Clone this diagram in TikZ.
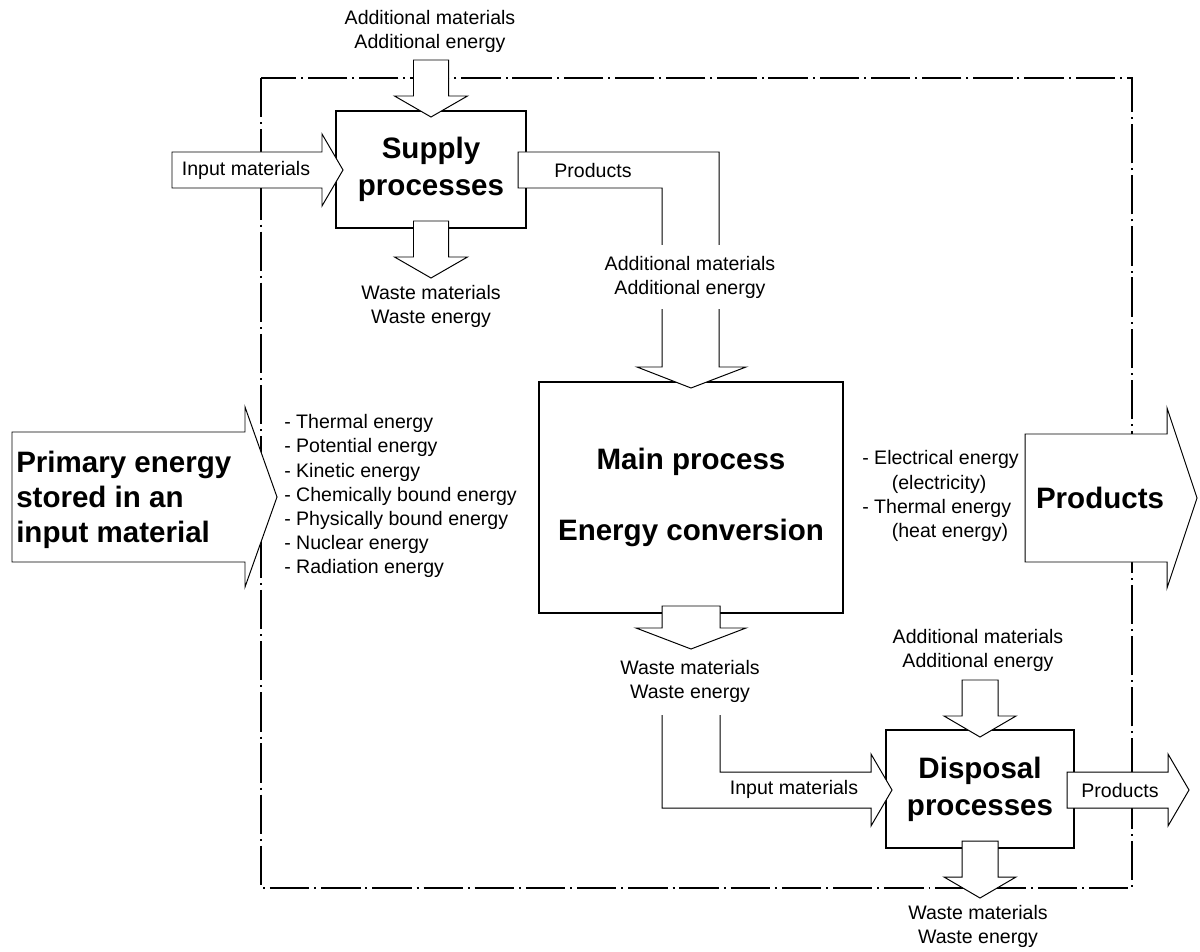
\documentclass[tikz,border=0pt]{standalone}
\usepackage{fontspec}
\setmainfont{Liberation Sans}
\usetikzlibrary{calc}

\begin{document}
\begin{tikzpicture}[
    x=0.025cm, y=-0.025cm,
    process/.style={rectangle, draw, line width=2pt, fill=white, inner sep=2pt, align=center, font=\bfseries\fontsize{21}{26.5}\selectfont},
    txt/.style={align=center, inner sep=0pt, font=\fontsize{13.9}{17.1}\selectfont},
    bigtxt/.style={align=left, inner sep=0pt, font=\bfseries\fontsize{21}{25}\selectfont},
    flow/.style={draw, fill=white, line width=0.7pt},
    frame/.style={line width=0.9pt, dash pattern=on 28pt off 3.5pt on 1.4pt off 3.5pt},
    arrowdown/.style n args={3}{flow, to path={($(\tikztostart)+(-#1,0)$) -- ($(\tikztotarget)+(-#1,-#3)$) -- ($(\tikztotarget)+(-#2,-#3)$) -- (\tikztotarget) -- ($(\tikztotarget)+(#2,-#3)$) -- ($(\tikztotarget)+(#1,-#3)$) -- ($(\tikztostart)+(#1,0)$) -- cycle}},
    arrowright/.style n args={3}{flow, to path={($(\tikztostart)+(0,-#1)$) -- ($(\tikztotarget)+(-#3,-#1)$) -- ($(\tikztotarget)+(-#3,-#2)$) -- (\tikztotarget) -- ($(\tikztotarget)+(-#3,#2)$) -- ($(\tikztotarget)+(-#3,#1)$) -- ($(\tikztostart)+(0,#1)$) -- cycle}}
]
\useasboundingbox (0,0) rectangle (1200,951);

% System boundary
\draw[frame] (261,78) rectangle (1132,888);

% Processes
\node[process, minimum width=4.75cm, minimum height=2.925cm] (supply) at (431,169.5) {Supply\\processes};
\node[process, minimum width=7.6cm, minimum height=5.775cm] (mainproc) at (691,497.5) {Main process\\[24pt]Energy conversion};
\node[process, minimum width=4.7cm, minimum height=2.95cm] (disposal) at (980,789) {Disposal\\processes};

% Arrow ends
\coordinate (st1) at (431,60);   \coordinate (st2) at (431,117);
\coordinate (sw1) at (431,221);  \coordinate (sw2) at (431,278);
\coordinate (si1) at (172,170);  \coordinate (si2) at (343,170);
\coordinate (sp1) at (518,170);  \coordinate (sp2) at (691,388);
\coordinate (pe1) at (12,497);   \coordinate (pe2) at (277,497);
\coordinate (po1) at (1025,498); \coordinate (po2) at (1197,498);
\coordinate (mw1) at (691,606);  \coordinate (mw2) at (691,649);
\coordinate (di1) at (691,715);  \coordinate (di2) at (892,790);
\coordinate (dt1) at (980,680);  \coordinate (dt2) at (980,737);
\coordinate (dw1) at (980,841);  \coordinate (dw2) at (980,898);
\coordinate (dp1) at (1067,790); \coordinate (dp2) at (1189,790);

% Supply arrows
\draw[arrowdown={17.5}{36.5}{21}] (st1) to (st2);
\draw[arrowdown={17.5}{36.5}{21}] (sw1) to (sw2);
\draw[arrowright={18}{36}{21}] (si1) to (si2);
\draw[flow] ($(sp1)+(0,-18)$) -| ($(sp2)+(28,-21)$) -- ($(sp2)+(55,-21)$) -- (sp2)
    -- ($(sp2)+(-54,-21)$) -- ($(sp2)+(-29,-21)$) |- ($(sp1)+(0,18)$) -- cycle;

% Main process arrows
\draw[arrowright={65}{90}{32}] (pe1) to (pe2);
\draw[arrowright={64}{90}{30}] (po1) to (po2);
\draw[arrowdown={29}{55}{21}] (mw1) to (mw2);

% Disposal arrows
\draw[flow] ($(di1)+(29,0)$) |- ($(di2)+(-21,-18)$) -- ($(di2)+(-21,-36)$) -- (di2)
    -- ($(di2)+(-21,36)$) -- ($(di2)+(-21,18)$) -| ($(di1)+(-29,0)$);
\draw[arrowdown={18}{36}{21}] (dt1) to (dt2);
\draw[arrowdown={18}{36}{21}] (dw1) to (dw2);
\draw[arrowright={18}{36}{21}] (dp1) to (dp2);

% Labels
\node[txt] (supplyadd) at (430,31) {Additional materials\\Additional energy};
\node[txt] (supplyin) at (246,170) {Input materials};
\node[txt] (supplyprod) at (593,171) {Products};
\node[txt] (supplywaste) at (431,306) {Waste materials\\Waste energy};
\node[txt, fill=white, inner sep=8pt] (mainadd) at (690,277) {Additional materials\\Additional energy};

\node[bigtxt, anchor=west] (primary) at (16,500) {Primary energy\\stored in an\\input material};
\node[txt, align=left, anchor=west] (primforms) at (284,496) {- Thermal energy\\- Potential energy\\- Kinetic energy\\- Chemically bound energy\\- Physically bound energy\\- Nuclear energy\\- Radiation energy};
\node[txt, align=left, anchor=west] (outforms) at (862,496) {- Electrical energy\\\hspace*{21pt}(electricity)\\- Thermal energy\\\hspace*{21pt}(heat energy)};
\node[bigtxt] (products) at (1100,498) {Products};
\node[txt] (mainwaste) at (690,681) {Waste materials\\Waste energy};

\node[txt] (disposalin) at (794,789) {Input materials};
\node[txt] (disposaladd) at (978,650) {Additional materials\\Additional energy};
\node[txt] (disposalprod) at (1120,791) {Products};
\node[txt] (disposalwaste) at (978,926) {Waste materials\\Waste energy};

\end{tikzpicture}
\end{document}
